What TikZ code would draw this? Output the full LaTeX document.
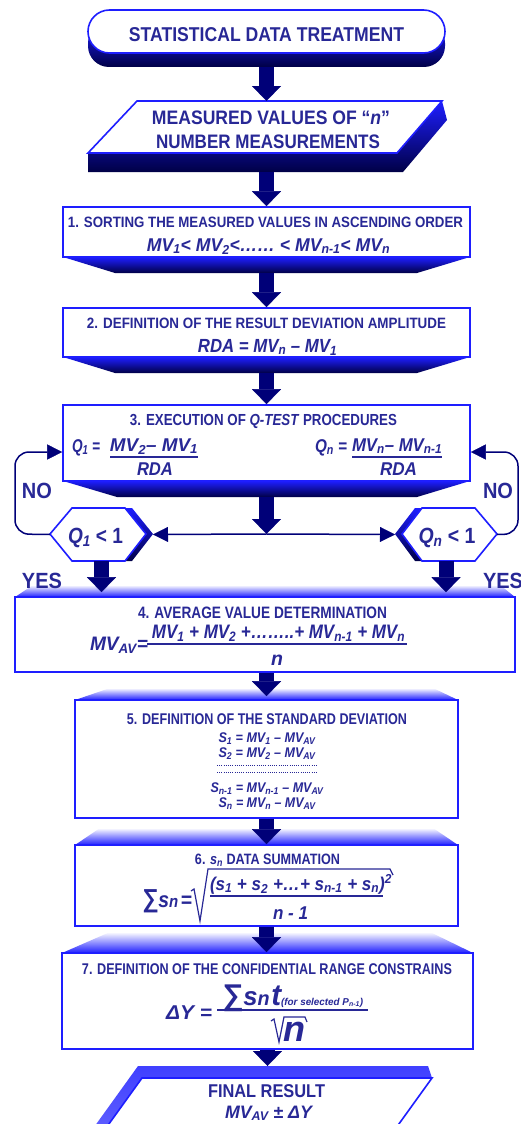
\documentclass[tikz,border=0pt]{standalone}
\usepackage{fontspec}
\usepackage{graphicx}
\setmainfont{Liberation Sans}
\usetikzlibrary{arrows.meta}
\definecolor{txt}{RGB}{40,40,150}
\definecolor{bord}{RGB}{30,30,255}
\definecolor{arr}{RGB}{0,0,120}
\definecolor{deep}{RGB}{0,0,70}
\newcommand\fsz[1]{\fontsize{#1}{#1}\selectfont}
\newcommand\sbs[1]{\textsubscript{#1}}
\newcommand\tw[2]{\resizebox{#1pt}{\height}{#2}}
\newcommand\fb{\bfseries}
\newcommand\fbi{\bfseries\itshape}
\tikzset{
  whitebox/.style={draw=bord, line width=1.6pt, fill=white, inner sep=0pt},
  shapeline/.style={draw=bord, line width=1.6pt, fill=white},
  ghost/.style={inner sep=0pt, outer sep=0pt},
  bigarrow/.style={draw=arr, line width=15pt, -{Triangle[width=29pt,length=15pt,line width=0.4pt]}},
  thinarrow/.style={draw=arr, line width=1.5pt, -{Triangle[width=15pt,length=15pt,line width=0.4pt]}},
  lbl/.style={text=txt, inner sep=0pt},
  fracbar/.style={draw=txt, line width=1.4pt},
  lowbevel/.style={top color=bord, bottom color=deep},
  topbevel/.style={top color=white, bottom color=bord},
}
\begin{document}
\begin{tikzpicture}[x=1pt,y=-1pt]
\useasboundingbox (0,0) rectangle (521,1124);
\clip (0,0) rectangle (521,1124);

% ---- start terminal
\shade[lowbevel, rounded corners=21pt] (88,22) rectangle (445,67);
\node[whitebox, rounded corners=21.5pt, minimum width=357pt, minimum height=43pt] (start) at (266.5,31.5) {};
\node[ghost, minimum width=357pt, minimum height=57pt] (startall) at (266.5,38.5) {};
\node[lbl, anchor=base] (tstart) at (266.5,42) {\fb\fsz{20}\tw{275}{STATISTICAL DATA TREATMENT}};

% ---- input parallelogram
\shade[lowbevel] (88,153) -- (397,153) -- (442,101) -- (447,120) -- (403,172) -- (88,172) -- cycle;
\draw[shapeline] (137,101) -- (442,101) -- (397,153) -- (88,153) -- cycle;
\node[ghost, minimum width=359pt, minimum height=71pt] (inp) at (266.5,136.5) {};
\node[lbl, anchor=base] (tin1) at (271,124) {\fb\fsz{19.5}\tw{238}{MEASURED VALUES OF “\textit{n}”}};
\node[lbl, anchor=base] (tin2) at (268,148) {\fb\fsz{19.5}\tw{224}{NUMBER MEASUREMENTS}};

% ---- box 1
\shade[lowbevel] (63,257) -- (470,257) -- (417,273) -- (115,273) -- cycle;
\node[whitebox, minimum width=407pt, minimum height=50pt] (b1) at (266.5,232) {};
\coordinate (b1x) at (266.5,273);
\node[lbl, anchor=base] (t1a) at (265.5,227) {\fb\fsz{15}\tw{395}{1. SORTING THE MEASURED VALUES IN ASCENDING ORDER}};
\node[lbl, anchor=base] (t1b) at (268.5,251) {\fbi\fsz{18.5}\tw{243}{MV\sbs{1}< MV\sbs{2}<…… < MV\sbs{n-1}< MV\sbs{n}}};

% ---- box 2
\shade[lowbevel] (63,357) -- (470,357) -- (417,373) -- (115,373) -- cycle;
\node[whitebox, minimum width=407pt, minimum height=49pt] (b2) at (266.5,332.5) {};
\coordinate (b2x) at (266.5,373);
\node[lbl, anchor=base] (t2a) at (266.5,328) {\fb\fsz{15}\tw{359}{2. DEFINITION OF THE RESULT DEVIATION AMPLITUDE}};
\node[lbl, anchor=base] (t2b) at (267.5,352) {\fbi\fsz{19}\tw{139}{RDA = MV\sbs{n} – MV\sbs{1}}};

% ---- box 3
\shade[lowbevel] (63,481) -- (470,481) -- (417,497) -- (117,497) -- cycle;
\node[whitebox, minimum width=407pt, minimum height=76pt] (b3) at (266.5,443) {};
\coordinate (b3x) at (266.5,497);
\node[lbl, anchor=base] (t3a) at (263.5,425) {\fb\fsz{16}\tw{267}{3. EXECUTION OF \textit{Q-TEST} PROCEDURES}};
\node[lbl, anchor=base] (q1eq) at (86,452) {\fbi\fsz{18.5}\tw{28}{Q\sbs{1} =}};
\node[lbl, anchor=base] (q1n) at (154,451) {\fbi\fsz{18.5}\tw{88}{MV\sbs{2}– MV\sbs{1}}};
\draw[fracbar] (110,457) -- (198,457);
\node[lbl, anchor=base] (q1d) at (155,475) {\fbi\fsz{18.5}\tw{36}{RDA}};
\node[lbl, anchor=base] (qneq) at (331,452) {\fbi\fsz{18.5}\tw{32}{Q\sbs{n} =}};
\node[lbl, anchor=base] (qnn) at (397,451) {\fbi\fsz{18.5}\tw{90}{MV\sbs{n}– MV\sbs{n-1}}};
\draw[fracbar] (352,457) -- (442,457);
\node[lbl, anchor=base] (qnd) at (398.5,475) {\fbi\fsz{18.5}\tw{37}{RDA}};

\coordinate (j) at (266.5,534);

% ---- decision hexagons
\shade[lowbevel] (125,508) -- (132,508) -- (153,534) -- (132,561) -- (125,561) -- (146,534) -- cycle;
\draw[shapeline] (50,534) -- (72,508) -- (125,508) -- (146,534) -- (125,561) -- (72,561) -- cycle;
\node[ghost, minimum width=103pt, minimum height=53pt] (hL) at (101.5,534.5) {};
\node[lbl, anchor=base] (qh1) at (95.5,543) {\fb\fsz{22}\tw{55}{\textit{Q\sbs{1}} < 1}};

\shade[lowbevel] (422,508) -- (415,508) -- (395,534) -- (415,561) -- (422,561) -- (402,534) -- cycle;
\draw[shapeline] (402,534) -- (422,508) -- (475,508) -- (497,534) -- (475,561) -- (422,561) -- cycle;
\node[ghost, minimum width=102pt, minimum height=53pt] (hR) at (446,534.5) {};
\node[lbl, anchor=base] (qh2) at (447,543) {\fb\fsz{22}\tw{57}{\textit{Q\sbs{n}} < 1}};

\node[lbl, anchor=base] (no1) at (37,498) {\fb\fsz{22}\tw{30}{NO}};
\node[lbl, anchor=base] (no2) at (498,498) {\fb\fsz{22}\tw{30}{NO}};

% ---- box 4
\shade[topbevel] (33,585) -- (500,585) -- (515,597) -- (15,597) -- cycle;
\node[whitebox, minimum width=500pt, minimum height=75pt] (b4) at (265,634.5) {};
\node[lbl, anchor=base] (t4a) at (262.5,618) {\fb\fsz{16.5}\tw{249}{4. AVERAGE VALUE DETERMINATION}};
\node[lbl, anchor=base] (t4eq) at (119,650) {\fbi\fsz{19.5}\tw{58}{MV\sbs{AV}=}};
\node[lbl, anchor=base] (t4n) at (278.5,638) {\fbi\fsz{19.5}\tw{253}{MV\sbs{1} + MV\sbs{2} +……..+ MV\sbs{n-1} + MV\sbs{n}}};
\draw[fracbar] (147,644) -- (407,644);
\node[lbl, anchor=base] (t4d) at (277,665) {\fbi\fsz{19.5}n};

\node[lbl, anchor=base] (yes1) at (42,588) {\fb\fsz{22}\tw{40}{YES}};
\node[lbl, anchor=base] (yes2) at (503,588) {\fb\fsz{22}\tw{40}{YES}};

% ---- box 5
\shade[topbevel] (110,688) -- (433,688) -- (458,700) -- (75,700) -- cycle;
\node[whitebox, minimum width=383pt, minimum height=118pt] (b5) at (266.5,759) {};
\node[lbl, anchor=base] (t5a) at (267,724) {\fb\fsz{15.5}\tw{280}{5. DEFINITION OF THE STANDARD DEVIATION}};
\node[lbl, anchor=base] (s1) at (267,742) {\fbi\fsz{14}\tw{97}{S\sbs{1} = MV\sbs{1} – MV\sbs{AV}}};
\node[lbl, anchor=base] (s2) at (267,757) {\fbi\fsz{14}\tw{97}{S\sbs{2} = MV\sbs{2} – MV\sbs{AV}}};
\draw[txt, line width=1pt, dash pattern=on 1pt off 1.2pt] (217,765) -- (317,765);
\draw[txt, line width=1pt, dash pattern=on 1pt off 1.2pt] (217,772) -- (317,772);
\node[lbl, anchor=base] (sn1) at (267,792) {\fbi\fsz{14}\tw{113}{S\sbs{n-1} = MV\sbs{n-1} – MV\sbs{AV}}};
\node[lbl, anchor=base] (sn) at (267,807) {\fbi\fsz{14}\tw{97}{S\sbs{n} = MV\sbs{n} – MV\sbs{AV}}};

% ---- box 6
\shade[topbevel] (100,828) -- (433,828) -- (458,845) -- (75,845) -- cycle;
\node[whitebox, minimum width=383pt, minimum height=81pt] (b6) at (266.5,885.5) {};
\node[lbl, anchor=base] (t6a) at (267.5,864) {\fb\fsz{15}\tw{145}{6. \textit{s\sbs{n}} DATA SUMMATION}};
\node[lbl, anchor=base] (t6s) at (167,907) {\fbi\tw{50}{{\fsz{26}∑}{\fsz{22}s}{\fsz{17}n} {\fsz{22}=}}};
\draw[fracbar, line width=1.2pt] (191,891) -- (194,889) -- (200,921) -- (208,869) -- (390,869) -- (393,875);
\node[lbl, anchor=base] (t6n) at (301,890) {\fbi\fsz{18.5}\tw{182}{(s\sbs{1} + s\sbs{2} +…+ s\sbs{n-1} + s\sbs{n})\textsuperscript{2}}};
\draw[fracbar] (210,896) -- (383,896);
\node[lbl, anchor=base] (t6d) at (290.5,919) {\fbi\fsz{18.5}\tw{35}{n - 1}};

% ---- box 7
\shade[topbevel] (110,932) -- (430,932) -- (473,953) -- (62,953) -- cycle;
\node[whitebox, minimum width=411pt, minimum height=96pt] (b7) at (267.5,1001) {};
\node[lbl, anchor=base] (t7a) at (267,974) {\fb\fsz{15.5}\tw{370}{7. DEFINITION OF THE CONFIDENTIAL RANGE CONSTRAINS}};
\node[lbl, anchor=base] (t7eq) at (189,1019) {\fbi\fsz{20}\tw{46}{ΔY =}};
\node[lbl, anchor=base west] (t7n) at (222,1005) {\fbi\tw{141}{{\fsz{30}∑}{\fsz{26}s}{\fsz{20}n}\,{\fsz{30}t}{\fsz{10}(for selected P\sbs{n-1})}}};
\draw[fracbar] (217,1010) -- (368,1010);
\draw[fracbar, line width=1.2pt] (271,1021) -- (274,1019) -- (279,1042) -- (284,1017) -- (305,1017) -- (307,1022);
\node[lbl, anchor=base] (t7d) at (294,1041) {\fbi\fsz{36}n};

% ---- final result
\shade[top color=bord!85, bottom color=bord!70!white] (138,1066) -- (428,1066) -- (432,1078) -- (142,1078) -- (98.8,1138) -- (86.2,1138) -- cycle;
\draw[shapeline] (142,1078) -- (432,1078) -- (388.8,1138) -- (98.8,1138) -- cycle;
\node[ghost, minimum width=300pt, minimum height=58pt] (fin) at (267.5,1095) {};
\node[lbl, anchor=base] (tf1) at (266.5,1097) {\fb\fsz{18.5}\tw{117}{FINAL RESULT}};
\node[lbl, anchor=base] (tf2) at (268.5,1118) {\fbi\fsz{18}\tw{87}{MV\sbs{AV} ± ΔY}};

% ---- connectors
\draw[bigarrow] (startall.south) -- (inp.north);
\draw[bigarrow] (inp.south) -- (b1.north);
\draw[bigarrow] (b1x) -- (b2.north);
\draw[bigarrow] (b2x) -- (b3.north);
\draw[bigarrow] (b3x) -- (j);
\draw[thinarrow] (j) -- (hL.east);
\draw[thinarrow] (j) -- (hR.west);
\draw[thinarrow, rounded corners=14pt] (hL.west) -- (15,534) -- (15,452) -- ([yshift=-9pt]b3.west);
\draw[thinarrow, rounded corners=14pt] (hR.east) -- (518,534) -- (518,452) -- ([yshift=-9pt]b3.east);
\draw[bigarrow, shorten >=4pt] (hL.south) -- (hL.south |- b4.north);
\draw[bigarrow, shorten >=4pt] (hR.south) -- (hR.south |- b4.north);
\draw[bigarrow, shorten >=3pt] (b5.north |- b4.south) -- (b5.north);
\draw[bigarrow] (b5.south) -- (b6.north);
\draw[bigarrow] (b6.south) -- (b6.south |- b7.north);
\draw[bigarrow] (b7.south) -- (fin.north);
\end{tikzpicture}
\end{document}
